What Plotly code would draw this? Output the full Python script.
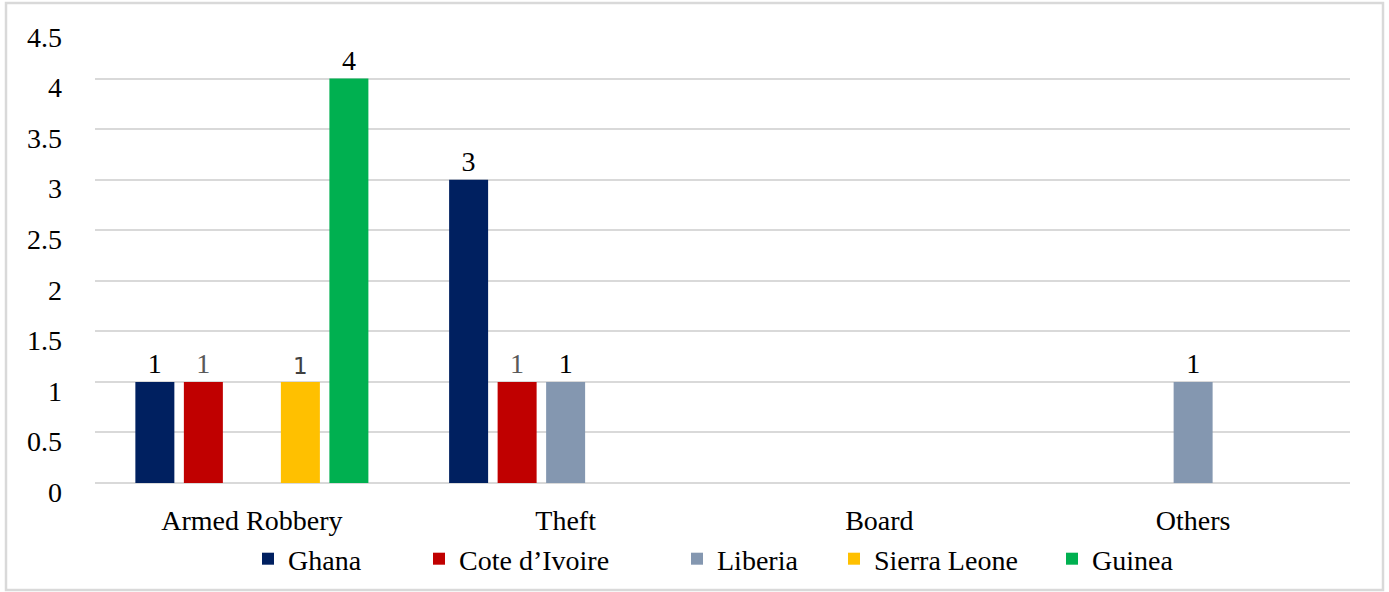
import plotly.graph_objects as go

# Incident counts by type and country
categories = ["Armed Robbery", "Theft", "Board", "Others"]
countries = ["Ghana", "Cote d\u2019Ivoire", "Liberia", "Sierra Leone", "Guinea"]
ghana = [1, 3, None, None]
cote_divoire = [1, 1, None, None]
liberia = [None, 1, None, 1]
sierra_leone = [1, None, None, None]
guinea = [4, None, None, None]
y_ticks = [0, 0.5, 1, 1.5, 2, 2.5, 3, 3.5, 4, 4.5]
y_tick_labels = ["0", "0.5", "1", "1.5", "2", "2.5", "3", "3.5", "4", "4.5"]

series = [ghana, cote_divoire, liberia, sierra_leone, guinea]
colors = ["#002060", "#C00000", "#8497B0", "#FFC000", "#00B050"]
label_colors = ["#000000", "#595959", "#000000", "#404040", "#000000"]
label_fonts = ["Liberation Serif", "Liberation Serif", "Liberation Serif",
               "DejaVu Sans", "Liberation Serif"]
label_sizes = [28, 28, 28, 23, 28]
FONT = "Liberation Serif"
FS = 28

W, H = 1389, 592
L, R, T, B = 95, 39, 28, 109
pw, ph = W - L - R, H - T - B

def px_to_paper_x(px):
    return (px - L) / pw

def px_to_paper_y(py):
    return (H - B - py) / ph

# legend entry left edges (px) laid out along the bottom
legend_left = [248, 419, 677, 834, 1052]
legend_names = ["legend", "legend2", "legend3", "legend4", "legend5"]

fig = go.Figure()
for i, (name, vals) in enumerate(zip(countries, series)):
    texts = ["" if v is None else f"{v:g}" for v in vals]
    fig.add_trace(go.Bar(
        x=categories, y=vals, name=name,
        marker=dict(color=colors[i], line=dict(width=0)),
        text=texts, textposition="outside",
        textfont=dict(family=label_fonts[i], size=label_sizes[i], color=label_colors[i]),
        cliponaxis=False,
        legend=legend_names[i],
        hoverinfo="x+y+name",
    ))

layout_legends = {}
for i, ln in enumerate(legend_names):
    layout_legends[ln] = dict(
        x=px_to_paper_x(legend_left[i]), xanchor="left",
        y=px_to_paper_y(559), yanchor="middle",
        orientation="h",
        font=dict(family=FONT, size=FS, color="#000000"),
        bgcolor="rgba(0,0,0,0)", borderwidth=0,
        itemclick=False, itemdoubleclick=False,
    )

fig.update_layout(
    width=W, height=H,
    margin=dict(l=L, r=R, t=T, b=B, pad=0, autoexpand=False),
    paper_bgcolor="#FFFFFF", plot_bgcolor="#FFFFFF",
    barmode="group", bargap=0.227, bargroupgap=0.196,
    font=dict(family=FONT, size=FS, color="#000000"),
    showlegend=True,
    **layout_legends,
    shapes=[dict(
        type="rect", xref="paper", yref="paper",
        x0=px_to_paper_x(6), x1=px_to_paper_x(1383),
        y0=px_to_paper_y(590), y1=px_to_paper_y(3),
        line=dict(color="#D9D9D9", width=2.5), fillcolor="rgba(0,0,0,0)",
        layer="below",
    )],
)

fig.update_xaxes(
    showgrid=False, showline=False, zeroline=False, ticks="",
    tickfont=dict(family=FONT, size=FS, color="#000000"),
    ticklabelstandoff=18, automargin=False,
)
fig.update_yaxes(
    range=[0, 4.5], tickvals=y_ticks, ticktext=y_tick_labels,
    showgrid=True, gridcolor="#D9D9D9", gridwidth=2,
    zeroline=True, zerolinecolor="#D9D9D9", zerolinewidth=2,
    showline=False, ticks="",
    tickfont=dict(family=FONT, size=FS, color="#000000"),
    ticklabelstandoff=32, ticklabelshift=9, automargin=False,
)

fig.write_html("out.html")
